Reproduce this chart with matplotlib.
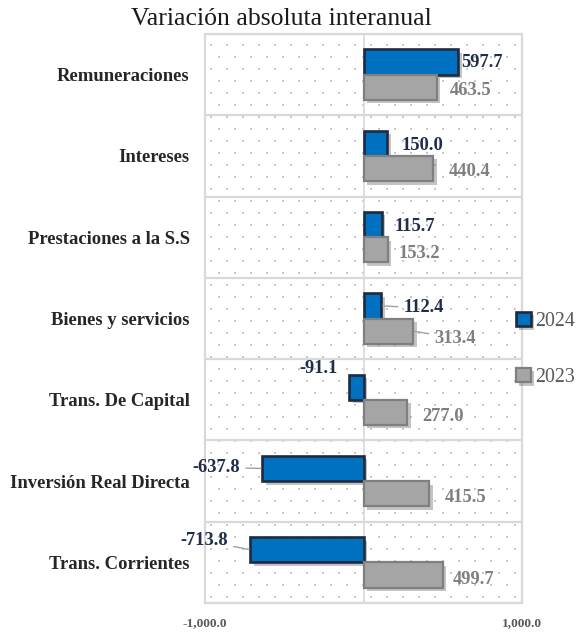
import matplotlib
matplotlib.use("Agg")
import matplotlib.pyplot as plt
import matplotlib.patheffects as pe
import numpy as np

# ---- data ----
categories = ["Remuneraciones", "Intereses", "Prestaciones a la S.S",
              "Bienes y servicios", "Trans. De Capital",
              "Inversión Real Directa", "Trans. Corrientes"]
values_2024 = [597.7, 150.0, 115.7, 112.4, -91.1, -637.8, -713.8]
values_2023 = [463.5, 440.4, 153.2, 313.4, 277.0, 415.5, 499.7]
series_names = ["2024", "2023"]
xtick_values = [-1000, 0, 1000]
xtick_labels = ["-1,000.0", "", "1,000.0"]
title = "Variación absoluta interanual"

# label offsets in pixels (dx, dy, leader line)
off_2024 = [(3, 0, False), (14, -2, False), (13, -2, False), (22, -2, True),
            (-11, 19, False), (-22, 1, True), (-22, 9, True)]
off_2023 = [(13, -3, False), (15, -3, False), (11, -4, False), (21, -7, True),
            (15, -4, False), (15, -4, False), (10, -5, False)]

SERIF = ["Liberation Serif", "DejaVu Serif"]
BLUE = "#0070C0"
BLUE_EDGE = "#1F2B3E"
GRAY = "#A5A5A5"
GRAY_EDGE = "#7F7F7F"
LBL_2024 = "#1F2D4A"
LBL_2023 = "#7F7F7F"
GRID = "#D9D9D9"

DPI = 100
fig = plt.figure(figsize=(5.78, 6.33), dpi=DPI)
ax = fig.add_axes([205 / 578, 1 - 603 / 633, 317 / 578, 569 / 633])

px = 72.0 / DPI  # points per pixel

# dotted background
ax_w, ax_h = 317, 569
dots_x, dots_y = [], []
for i, yy in enumerate(np.arange(6, ax_h, 12)):
    start = 8 if i % 2 else 0
    for xx in np.arange(start + 6, ax_w, 16):
        dots_x.append(xx / ax_w)
        dots_y.append(yy / ax_h)
ax.scatter(dots_x, dots_y, transform=ax.transAxes, s=2.5, marker="s",
           c="#C8C8C8", linewidths=0, zorder=0)

y = np.arange(len(categories))
h = 0.31
shadow = [pe.SimplePatchShadow(offset=(2.5, -2.5), shadow_rgbFace="#555555", alpha=0.35),
          pe.Normal()]

b24 = ax.barh(y - 0.155, values_2024, height=h, color=BLUE, edgecolor=BLUE_EDGE,
              linewidth=1.9, zorder=3, label=series_names[0])
b23 = ax.barh(y + 0.155, values_2023, height=h, color=GRAY, edgecolor=GRAY_EDGE,
              linewidth=1.6, zorder=3, label=series_names[1])
for bar in list(b24) + list(b23):
    bar.set_path_effects(shadow)

def put_labels(vals, ypos, offs, color):
    for v, yy, (dx, dy, leader) in zip(vals, ypos, offs):
        ha = "left" if dx >= 0 else "right"
        kw = {}
        if leader:
            kw["arrowprops"] = dict(arrowstyle="-", color="#A0A0A0", lw=1.0,
                                    shrinkA=2, shrinkB=1)
        ax.annotate(f"{v:,.1f}", xy=(v, yy), xytext=(dx * px, dy * px),
                    textcoords="offset points", ha=ha, va="center",
                    fontsize=13.3, fontweight="bold", color=color,
                    family=SERIF, zorder=5, **kw)

put_labels(values_2024, y - 0.155, off_2024, LBL_2024)
put_labels(values_2023, y + 0.155, off_2023, LBL_2023)

ax.set_xlim(-1000, 1000)
ax.set_ylim(len(categories) - 0.5, -0.5)
ax.set_xticks(xtick_values)
ax.set_xticklabels(xtick_labels, family=SERIF, fontweight="bold",
                   fontsize=9.6, color="#595959")
ax.set_yticks(y)
ax.set_yticklabels(categories, family=SERIF, fontweight="bold",
                   fontsize=13.4, color="#262626")
ax.set_yticks(np.arange(-0.5, len(categories), 1), minor=True)
ax.tick_params(axis="both", which="both", length=0)
ax.tick_params(axis="y", pad=11)
ax.tick_params(axis="x", pad=10)
ax.grid(True, axis="x", which="major", color=GRID, lw=1.2, zorder=1)
ax.grid(True, axis="y", which="minor", color=GRID, lw=1.6, zorder=1)
ax.set_axisbelow(True)
for s in ax.spines.values():
    s.set_color(GRID)
    s.set_linewidth(1.6)

fig.text(281.5 / 578, 1 - 19 / 633, title, ha="center", va="center",
         family=SERIF, fontsize=18.5, color="#1A1A1A")

leg = fig.legend(handles=[b24, b23], labels=series_names, loc="center left",
                 bbox_to_anchor=(516 / 578, 1 - 349.5 / 633), frameon=False,
                 prop={"family": SERIF, "size": 14.3}, labelcolor="#595959",
                 handlelength=0.75, handleheight=0.75, handletextpad=0.2,
                 labelspacing=1.85, borderpad=0, borderaxespad=0)

fig.savefig("out.png", dpi=DPI)
